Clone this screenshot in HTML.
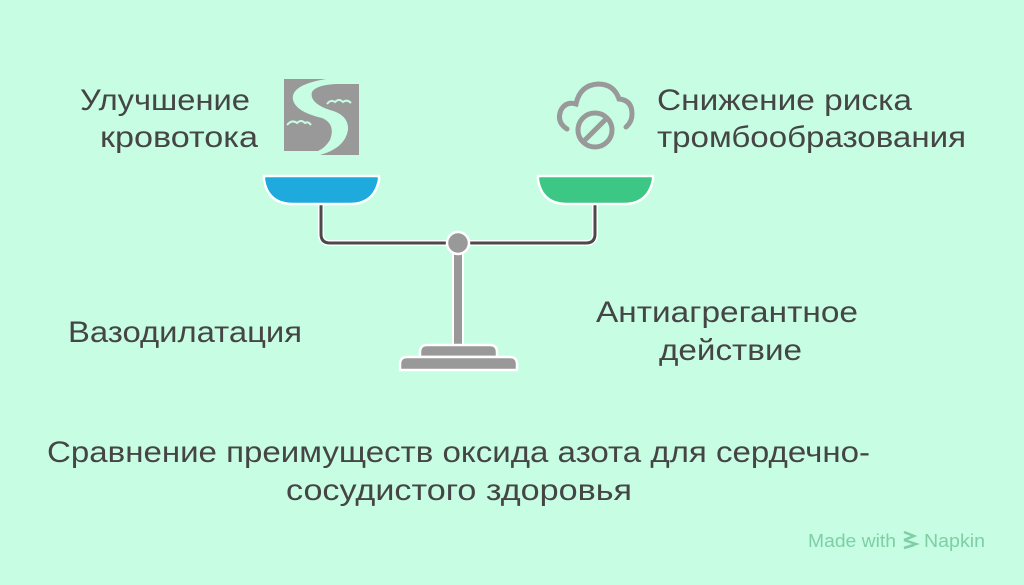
<!DOCTYPE html>
<html><head><meta charset="utf-8"><style>
html,body{margin:0;padding:0;background:#c6fde3;}
svg{display:block}
text{font-family:"Liberation Sans",sans-serif;fill:#454545;font-size:30px}
</style></head><body>
<svg width="1024" height="585" viewBox="0 0 1024 585" xmlns="http://www.w3.org/2000/svg">
<rect width="1024" height="585" fill="#c6fde3"/>
<text x="80" y="110" textLength="170" lengthAdjust="spacingAndGlyphs">Улучшение</text>
<text x="100" y="147" textLength="158" lengthAdjust="spacingAndGlyphs">кровотока</text>
<text x="657" y="110" textLength="255" lengthAdjust="spacingAndGlyphs">Снижение риска</text>
<text x="657" y="147" textLength="309" lengthAdjust="spacingAndGlyphs">тромбообразования</text>
<text x="68" y="342" textLength="234" lengthAdjust="spacingAndGlyphs">Вазодилатация</text>
<text x="596" y="322" textLength="262" lengthAdjust="spacingAndGlyphs">Антиагрегантное</text>
<text x="659" y="360" textLength="143" lengthAdjust="spacingAndGlyphs">действие</text>
<text x="47" y="462" textLength="823" lengthAdjust="spacingAndGlyphs">Сравнение преимуществ оксида азота для сердечно-</text>
<text x="286" y="500" textLength="346" lengthAdjust="spacingAndGlyphs">сосудистого здоровья</text>
<text x="808" y="547" style="font-size:18px;fill:#7fcfa6" textLength="88" lengthAdjust="spacingAndGlyphs">Made with</text>
<path d="M904 532 l10 4 l-10 4 M904 540 l12 4 l-12 4 M904 548 l10 -3" stroke="#7fcfa6" stroke-width="2.5" fill="none"/>
<text x="924" y="547" style="font-size:18px;fill:#7fcfa6" textLength="61" lengthAdjust="spacingAndGlyphs">Napkin</text>
<path d="M321 204 V234 Q321 243 330 243 H586 Q595 243 595 234 V204" stroke="#fff" stroke-width="6" fill="none"/>
<path d="M321 204 V234 Q321 243 330 243 H586 Q595 243 595 234 V204" stroke="#4a4a4a" stroke-width="3" fill="none"/>
<rect x="452" y="250" width="12" height="100" fill="#fff"/>
<rect x="454" y="252" width="8" height="98" fill="#999"/>
<circle cx="458" cy="243" r="11" fill="#999" stroke="#fff" stroke-width="2.5"/>
<path d="M420 357 V352 Q420 345 427 345 H490 Q497 345 497 352 V357 Z" fill="#999" stroke="#fff" stroke-width="2.5"/>
<path d="M400 370 V364 Q400 357 407 357 H510 Q517 357 517 364 V370 Z" fill="#999" stroke="#fff" stroke-width="2.5"/>
<path d="M264 176 H379 V180 Q374 204 350 204 H293 Q268 204 264 180 Z" fill="#1eaadc" stroke="#fff" stroke-width="2.5"/>
<path d="M538 176 H653 V180 Q648 204 624 204 H567 Q542 204 538 180 Z" fill="#3cc785" stroke="#fff" stroke-width="2.5"/>
<path d="M284 79 H326 Q290 85 293 100 Q296 112 322 118 Q336 124 330 140 Q325 148 318 151 H284 Z" fill="#999"/>
<path d="M336 84 H359 V155 H320 Q345 148 348 130 Q349 115 330 110 Q309 103 312 92 Q316 85 336 84 Z" fill="#999"/>
<path d="M287 125 q5 -6 10 -2 q4 -4 8 0 q3 -2 6 2" stroke="#c6fde3" stroke-width="2" fill="none"/>
<path d="M327 104 q4 -5 8 -2 q4 -4 8 0 q4 -3 8 1" stroke="#c6fde3" stroke-width="2" fill="none"/>
<path d="M567 129 Q556 122 561 110 Q566 101 576 104 Q580 85 598 84 Q614 84 619 99 Q632 100 632 114 Q632 122 626 127" stroke="#999" stroke-width="5" fill="none" stroke-linecap="round"/>
<circle cx="595" cy="130" r="17" fill="#c6fde3" stroke="#999" stroke-width="5"/>
<line x1="584" y1="141" x2="606" y2="119" stroke="#999" stroke-width="5"/>
</svg>
</body></html>
